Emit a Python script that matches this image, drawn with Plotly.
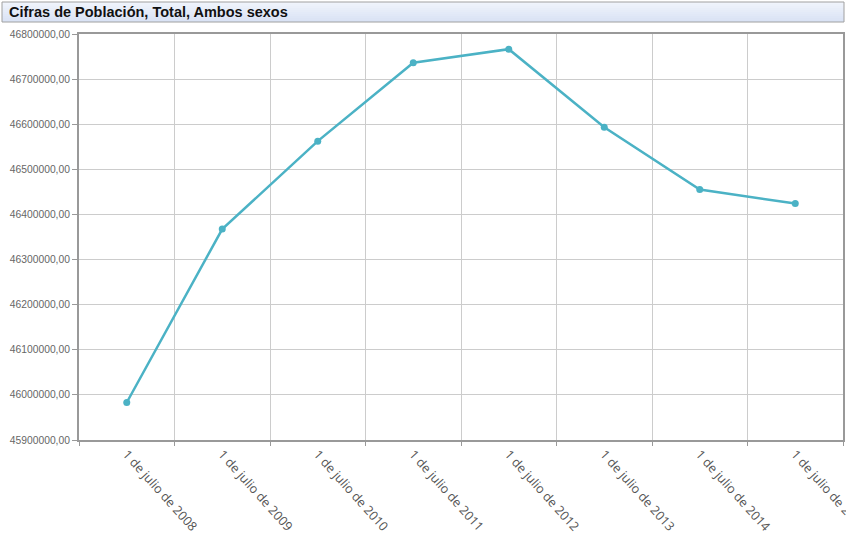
import plotly.graph_objects as go

categories = ["1 de julio de 2008", "1 de julio de 2009", "1 de julio de 2010",
              "1 de julio de 2011", "1 de julio de 2012", "1 de julio de 2013",
              "1 de julio de 2014", "1 de julio de 2015"]
poblacion = [45983169, 46367550, 46562483, 46736257, 46766403, 46593236, 46455123, 46424286]
y_tick_vals = [45900000, 46000000, 46100000, 46200000, 46300000, 46400000, 46500000,
               46600000, 46700000, 46800000]
y_tick_text = ["45900000,00", "46000000,00", "46100000,00", "46200000,00", "46300000,00",
               "46400000,00", "46500000,00", "46600000,00", "46700000,00", "46800000,00"]
title_text = "Cifras de Población, Total, Ambos sexos"

W, H = 846, 548
L, R, T, B = 79, 3, 34, 108
pw, ph = W - L - R, H - T - B

def px_x(x):
    return (x - L) / pw

def px_y(y):
    return (H - B - y) / ph

fig = go.Figure()
fig.add_trace(go.Scatter(
    x=categories, y=poblacion, mode="lines+markers",
    line=dict(color="#4bb2c5", width=2.5),
    marker=dict(color="#4bb2c5", size=7),
    hoverinfo="x+y", showlegend=False,
))

# title bar with soft gradient
top, bot = 2, 22
steps = 10
c0 = (240, 244, 252)
c1 = (218, 227, 245)
for i in range(steps):
    t = i / (steps - 1)
    c = tuple(int(c0[k] + (c1[k] - c0[k]) * t) for k in range(3))
    y0 = top + (bot - top) * i / steps
    y1 = top + (bot - top) * (i + 1) / steps
    fig.add_shape(type="rect", xref="paper", yref="paper",
                  x0=px_x(2), x1=px_x(844), y0=px_y(y1), y1=px_y(y0),
                  fillcolor="rgb(%d,%d,%d)" % c, line=dict(width=0), layer="below")
fig.add_shape(type="rect", xref="paper", yref="paper",
              x0=px_x(2), x1=px_x(844), y0=px_y(bot), y1=px_y(top),
              fillcolor="rgba(0,0,0,0)", line=dict(color="#a0a0a0", width=1))
fig.add_annotation(text="<b>" + title_text + "</b>", xref="paper", yref="paper",
                   x=px_x(7), y=px_y(12), xanchor="left", yanchor="middle",
                   showarrow=False, font=dict(family="Liberation Sans, Arial", size=14.5, color="#111"))

fig.update_xaxes(
    type="category", range=[-0.5, 7.5], tickson="boundaries",
    showgrid=True, gridcolor="#cccccc", gridwidth=1,
    showline=True, linecolor="#999999", linewidth=2, mirror=True,
    ticks="outside", ticklen=4, tickcolor="#999999",
    tickangle=48,
    tickfont=dict(family="Open Sans, sans-serif", size=12.6, color="#555555"),
)
fig.update_yaxes(
    range=[45900000, 46800000], tickvals=y_tick_vals, ticktext=y_tick_text,
    showgrid=True, gridcolor="#cccccc", gridwidth=1, zeroline=False,
    showline=True, linecolor="#999999", linewidth=2, mirror=True,
    ticks="outside", ticklen=5, tickcolor="#999999",
    tickfont=dict(family="Liberation Sans, Arial", size=10.3, color="#666666"),
)
fig.update_layout(
    width=W, height=H, margin=dict(l=L, r=R, t=T, b=B, autoexpand=False),
    paper_bgcolor="white", plot_bgcolor="white",
)
fig.write_html("out.html", config={"displayModeBar": False},
               post_script="document.body.style.margin='0';document.body.style.overflow='hidden';")
